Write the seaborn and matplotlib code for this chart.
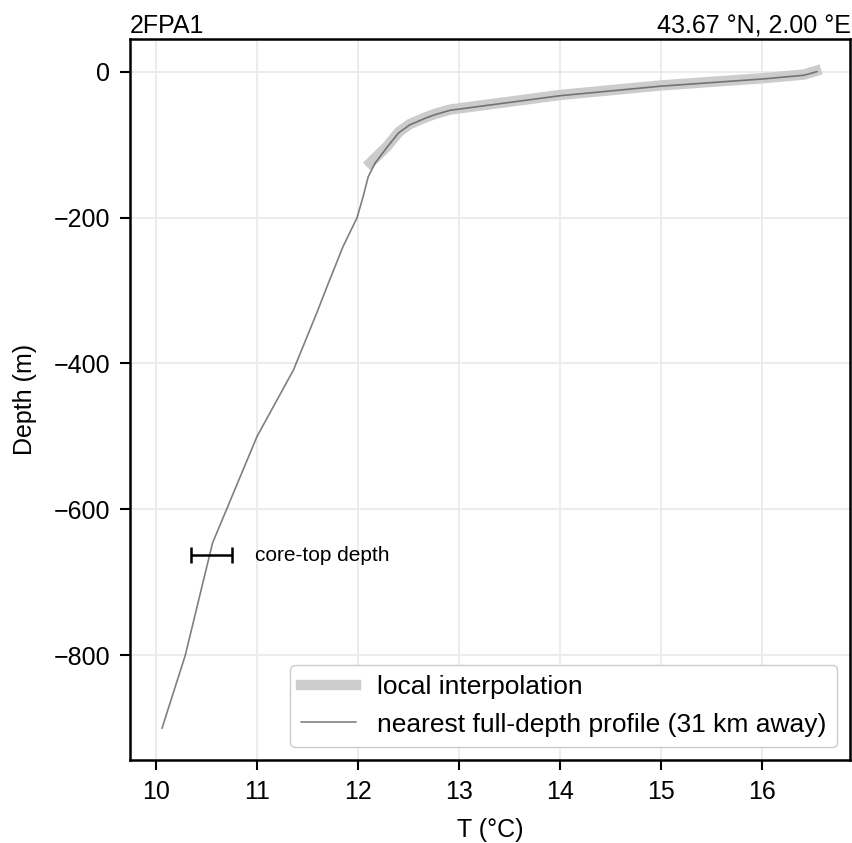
import matplotlib
matplotlib.use("Agg")
import matplotlib.pyplot as plt
import seaborn as sns

# nearest full-depth profile
prof_T = [16.54, 16.41, 16.01, 14.99, 14.0, 12.91, 12.76, 12.68, 12.51, 12.40, 12.29, 12.17,
          12.10, 12.05, 11.99, 11.85, 11.72, 11.59, 11.36, 11.0, 10.56, 10.29, 10.06]
prof_z = [0, -5, -10, -20, -33, -53, -59, -63, -73, -84, -103, -125,
          -144, -171, -200, -240, -285, -331, -409, -500, -646, -800, -900]

# local interpolation
loc_T = [16.53, 16.41, 16.01, 14.99, 14.0, 12.91, 12.76, 12.68, 12.51, 12.40, 12.29, 12.12]
loc_z = [1, -4, -9, -19, -32, -52, -58, -62, -72, -83, -102, -125]

core_T = 10.55
core_err = 0.2
core_z = -663

sns.set_style("ticks")
plt.rcParams['font.family'] = ['Liberation Sans', 'DejaVu Sans']
plt.rcParams['text.color'] = 'black'
plt.rcParams['axes.labelcolor'] = 'black'
plt.rcParams['xtick.color'] = 'black'
plt.rcParams['ytick.color'] = 'black'
plt.rcParams['axes.edgecolor'] = 'black'

fig, ax = plt.subplots(figsize=(8.53, 8.43), dpi=100)
sns.lineplot(x=loc_T, y=loc_z, sort=False, estimator=None, color='#cccccc', lw=7.5,
             solid_capstyle='projecting', label='local interpolation', ax=ax)
sns.lineplot(x=prof_T, y=prof_z, sort=False, estimator=None, color='#555555', alpha=0.75, lw=1.2,
             label='nearest full-depth profile (31 km away)', ax=ax)
ax.errorbar(core_T, core_z, xerr=core_err, color='black', capsize=6, lw=1.8, capthick=1.8)
ax.text(10.98, core_z, 'core-top depth', va='center', ha='left', fontsize=15)

ax.set_xlim(9.74, 16.87)
ax.set_ylim(-944, 45)
ax.set_xlabel('T (°C)', fontsize=18, labelpad=10)
ax.set_ylabel('Depth (m)', fontsize=18, labelpad=12)
ax.tick_params(labelsize=18, width=1.5, length=7, pad=7)
ax.grid(True, color='#ebebeb', lw=1.3)
for s in ax.spines.values():
    s.set_linewidth(1.8)
ax.set_title('2FPA1', loc='left', fontsize=18, pad=4)
ax.set_title('43.67 °N, 2.00 °E', loc='right', fontsize=18, pad=4)
ax.legend(loc='lower right', fontsize=19, framealpha=1, edgecolor='#cccccc',
          handlelength=2.1, handletextpad=0.8, borderaxespad=0.5)

plt.subplots_adjust(left=0.152, right=0.997, top=0.954, bottom=0.098)
plt.savefig('out.png', dpi=100)
